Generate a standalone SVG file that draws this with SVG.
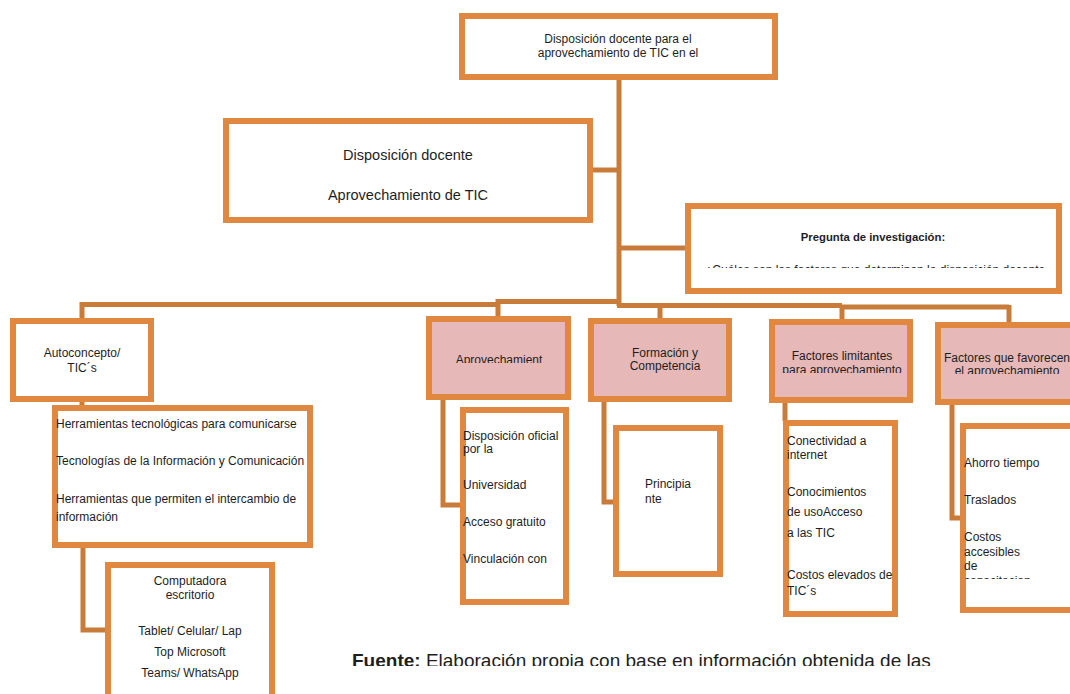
<svg xmlns="http://www.w3.org/2000/svg" width="1070" height="694" viewBox="0 0 1070 694">
<style>
.box{fill:#fff;stroke:#E0883F;stroke-width:6}
.pink{fill:#E6B8B7;stroke:#E0883F;stroke-width:6}
.con{fill:none;stroke:#C97C3A;stroke-width:5;stroke-linejoin:miter;stroke-linecap:butt}
text{font-family:"Liberation Sans",Arial,sans-serif;font-size:12px;fill:#1e1e1e}
.c{text-anchor:middle}
</style>
<defs>
<clipPath id="cpPreg"><rect x="688" y="206" width="371" height="62"/></clipPath>
<clipPath id="cpAprov"><rect x="429" y="319" width="139" height="44"/></clipPath>
<clipPath id="cpLim"><rect x="772" y="322" width="138" height="51"/></clipPath>
<clipPath id="cpFav"><rect x="938" y="325" width="140" height="49"/></clipPath>
<clipPath id="cpAho"><rect x="950" y="426" width="130" height="153"/></clipPath>
<clipPath id="cpFuente"><rect x="300" y="630" width="700" height="36"/></clipPath>
</defs>
<rect width="1070" height="694" fill="#fff"/>
<g id="connectors">
<path class="con" d="M619,80 V306"/>
<path class="con" d="M593,170 H619"/>
<path class="con" d="M619,248 H685"/>
<path class="con" d="M82,318 V304.5 H498"/>
<path class="con" d="M498,301.5 H619"/>
<path class="con" d="M498,299 V316"/>
<path class="con" d="M617,305.5 H842"/>
<path class="con" d="M660,305 V318"/>
<path class="con" d="M842,307 H1009"/>
<path class="con" d="M842,305 V319"/>
<path class="con" d="M1009,305 V322"/>
<path class="con" d="M82,400 V406"/>
<path class="con" d="M83,546 V630 H106"/>
<path class="con" d="M443,398 V505 H461"/>
<path class="con" d="M604,400 V502 H614"/>
<path class="con" d="M785,401 V421"/>
<path class="con" d="M952,403 V518 H961"/>
</g>
<g id="n-top">
<rect class="box" x="462" y="16" width="313" height="61"/>
<text class="c" x="618" y="43">Disposición docente para el</text>
<text class="c" x="618" y="57">aprovechamiento de TIC en el</text>
</g>
<g id="n-disp">
<rect class="box" x="226" y="121" width="364" height="99"/>
<text class="c" x="408" y="160" style="font-size:14.5px">Disposición docente</text>
<text class="c" x="408" y="200" style="font-size:14.5px">Aprovechamiento de TIC</text>
</g>
<g id="n-preg">
<rect class="box" x="688" y="206" width="371" height="85"/>
<text class="c" x="873" y="241" style="font-size:11.3px;font-weight:bold">Pregunta de investigación:</text>
<text x="705" y="274" clip-path="url(#cpPreg)">¿Cuáles son los factores que determinan la disposición docente</text>
</g>
<g id="n-auto">
<rect class="box" x="13" y="321" width="138" height="78"/>
<text class="c" x="82" y="357">Autoconcepto/</text>
<text class="c" x="82" y="372">TIC´s</text>
</g>
<g id="n-herr">
<rect class="box" x="55" y="408" width="255" height="137"/>
<text x="56" y="428">Herramientas tecnológicas para comunicarse</text>
<text x="56" y="465">Tecnologías de la Información y Comunicación</text>
<text x="56" y="503">Herramientas que permiten el intercambio de</text>
<text x="56" y="521">información</text>
</g>
<g id="n-comp">
<rect class="box" x="108" y="565" width="164" height="140"/>
<text class="c" x="190" y="585">Computadora</text>
<text class="c" x="190" y="599">escritorio</text>
<text class="c" x="190" y="635">Tablet/ Celular/ Lap</text>
<text class="c" x="190" y="656">Top Microsoft</text>
<text class="c" x="190" y="677">Teams/ WhatsApp</text>
</g>
<g id="n-aprov">
<rect class="pink" x="429" y="319" width="139" height="78"/>
<text class="c" x="499" y="364" clip-path="url(#cpAprov)">Aprovechamient</text>
</g>
<g id="n-oficial">
<rect class="box" x="463" y="410" width="103" height="192"/>
<text x="463" y="440">Disposición oficial</text>
<text x="463" y="453">por la</text>
<text x="463" y="489">Universidad</text>
<text x="463" y="526">Acceso gratuito</text>
<text x="463" y="563">Vinculación con</text>
</g>
<g id="n-form">
<rect class="pink" x="591" y="321" width="138" height="78"/>
<text class="c" x="665" y="357">Formación y</text>
<text class="c" x="665" y="370">Competencia</text>
</g>
<g id="n-princ">
<rect class="box" x="616" y="428" width="104" height="146"/>
<text x="645" y="488">Principia</text>
<text x="645" y="503">nte</text>
</g>
<g id="n-lim">
<rect class="pink" x="772" y="322" width="138" height="78"/>
<text class="c" x="842" y="360">Factores limitantes</text>
<text class="c" x="842" y="374" clip-path="url(#cpLim)">para aprovechamiento</text>
</g>
<g id="n-conect">
<rect class="box" x="786" y="423" width="109" height="191"/>
<text x="787" y="445">Conectividad a</text>
<text x="787" y="459">internet</text>
<text x="787" y="496">Conocimientos</text>
<text x="787" y="516">de usoAcceso</text>
<text x="787" y="537">a las TIC</text>
<text x="787" y="579">Costos elevados de</text>
<text x="787" y="595">TIC´s</text>
</g>
<g id="n-fav">
<rect class="pink" x="938" y="325" width="140" height="77"/>
<text class="c" x="1007" y="362">Factores que favorecen</text>
<text class="c" x="1007" y="375" clip-path="url(#cpFav)">el aprovechamiento</text>
</g>
<g id="n-ahorro">
<rect class="box" x="963" y="426" width="120" height="184"/>
<text x="964" y="467">Ahorro tiempo</text>
<text x="964" y="504">Traslados</text>
<g clip-path="url(#cpAho)">
<text x="964" y="541">Costos</text>
<text x="964" y="556">accesibles</text>
<text x="964" y="570">de</text>
<text x="964" y="585">capacitacion</text>
</g>
</g>
<g id="fuente">
<text x="352" y="667" clip-path="url(#cpFuente)" style="font-size:19px"><tspan style="font-weight:bold">Fuente:</tspan> Elaboración propia con base en información obtenida de las</text>
</g>
</svg>
